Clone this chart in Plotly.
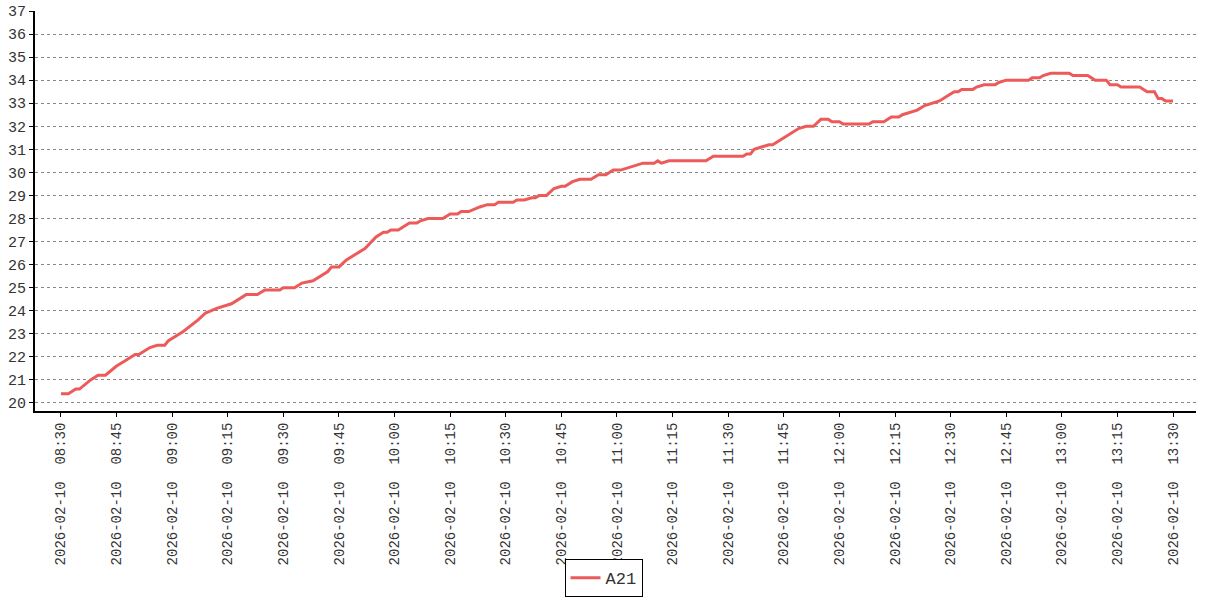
import plotly.graph_objects as go

DATE = "2026-02-10"
times = ["08:30", "08:32", "08:34", "08:35", "08:38", "08:40", "08:42", "08:45", "08:47", "08:50",
         "08:51", "08:54", "08:56", "08:58", "08:59", "09:03", "09:07", "09:09", "09:12", "09:16",
         "09:19", "09:20", "09:23", "09:25", "09:29", "09:30", "09:33", "09:35", "09:38", "09:40",
         "09:42", "09:43", "09:45", "09:47", "09:49", "09:52", "09:55", "09:57", "09:58", "09:59",
         "10:01", "10:02", "10:04", "10:06", "10:07", "10:09", "10:13", "10:15", "10:17", "10:18",
         "10:20", "10:23", "10:25", "10:27", "10:28", "10:32", "10:33", "10:35", "10:37", "10:38",
         "10:39", "10:41", "10:43", "10:45", "10:46", "10:48", "10:50", "10:53", "10:55", "10:57",
         "10:59", "11:01", "11:03", "11:05", "11:07", "11:10", "11:11", "11:12", "11:14", "11:24",
         "11:26", "11:34", "11:35", "11:36", "11:37", "11:39", "11:41", "11:42", "11:45", "11:47",
         "11:49", "11:51", "11:53", "11:55", "11:57", "11:58", "12:00", "12:01", "12:08", "12:09",
         "12:12", "12:14", "12:16", "12:17", "12:19", "12:21", "12:23", "12:25", "12:27", "12:29",
         "12:31", "12:32", "12:33", "12:36", "12:37", "12:39", "12:42", "12:43", "12:45", "12:51",
         "12:52", "12:54", "12:55", "12:57", "13:02", "13:03", "13:07", "13:08", "13:09", "13:12",
         "13:13", "13:15", "13:16", "13:21", "13:23", "13:25", "13:26", "13:27", "13:28", "13:30"]
values = [20.4, 20.4, 20.6, 20.6, 21.0, 21.2, 21.2, 21.6, 21.8, 22.1,
          22.1, 22.4, 22.5, 22.5, 22.7, 23.1, 23.6, 23.9, 24.1, 24.3,
          24.6, 24.7, 24.7, 24.9, 24.9, 25.0, 25.0, 25.2, 25.3, 25.5,
          25.7, 25.9, 25.9, 26.2, 26.4, 26.7, 27.2, 27.4, 27.4, 27.5,
          27.5, 27.6, 27.8, 27.8, 27.9, 28.0, 28.0, 28.2, 28.2, 28.3,
          28.3, 28.5, 28.6, 28.6, 28.7, 28.7, 28.8, 28.8, 28.9, 28.9,
          29.0, 29.0, 29.3, 29.4, 29.4, 29.6, 29.7, 29.7, 29.9, 29.9,
          30.1, 30.1, 30.2, 30.3, 30.4, 30.4, 30.5, 30.4, 30.5, 30.5,
          30.7, 30.7, 30.8, 30.8, 31.0, 31.1, 31.2, 31.2, 31.5, 31.7,
          31.9, 32.0, 32.0, 32.3, 32.3, 32.2, 32.2, 32.1, 32.1, 32.2,
          32.2, 32.4, 32.4, 32.5, 32.6, 32.7, 32.9, 33.0, 33.1, 33.3,
          33.5, 33.5, 33.6, 33.6, 33.7, 33.8, 33.8, 33.9, 34.0, 34.0,
          34.1, 34.1, 34.2, 34.3, 34.3, 34.2, 34.2, 34.1, 34.0, 34.0,
          33.8, 33.8, 33.7, 33.7, 33.5, 33.5, 33.2, 33.2, 33.1, 33.1]
series_name = "A21"
tick_times = ["08:30", "08:45", "09:00", "09:15", "09:30", "09:45", "10:00", "10:15", "10:30",
              "10:45", "11:00", "11:15", "11:30", "11:45", "12:00", "12:15", "12:30", "12:45",
              "13:00", "13:15", "13:30"]
y_ticks = list(range(20, 38))

x = [f"{DATE} {t}:00" for t in times]
tickvals = [f"{DATE} {t}:00" for t in tick_times]
ticktext = [f"{DATE}\u00a0\u00a0{t}" for t in tick_times]

FONT = "Liberation Mono, Courier New, monospace"

fig = go.Figure()
fig.add_trace(go.Scatter(x=x, y=values, mode="lines", name=series_name,
                         line=dict(color="#ec5a5a", width=3)))

fig.update_layout(
    width=1207, height=600,
    margin=dict(l=35, r=11, t=11, b=189, autoexpand=False),
    paper_bgcolor="white", plot_bgcolor="white",
    font=dict(family=FONT, size=14, color="#333"),
    showlegend=True,
    legend=dict(xref="container", yref="container",
                x=0.5, xanchor="center", y=0.068, yanchor="top",
                orientation="h", bordercolor="#000", borderwidth=1,
                font=dict(size=17, family=FONT, color="#333"),
                itemwidth=30, tracegroupgap=0),
    xaxis=dict(type="date", range=[f"{DATE} 08:23:00", f"{DATE} 13:36:12"],
               tickmode="array", tickvals=tickvals, ticktext=ticktext,
               tickangle=-90, showgrid=False, zeroline=False, automargin=False,
               showline=True, linecolor="#000", linewidth=2,
               ticks="outside", ticklen=4, tickcolor="#000",
               tickfont=dict(size=14, family=FONT, color="#333")),
    yaxis=dict(range=[19.65, 37.0], tickmode="array", tickvals=y_ticks,
               showgrid=True, gridcolor="#888", griddash="dot", gridwidth=1,
               zeroline=False, automargin=False,
               showline=True, linecolor="#000", linewidth=2,
               ticks="outside", ticklen=4, tickcolor="#000",
               tickfont=dict(size=15, family=FONT, color="#333")),
)

fig.write_html("out.html", config={"displayModeBar": False},
               post_script="document.body.style.margin='0';")
